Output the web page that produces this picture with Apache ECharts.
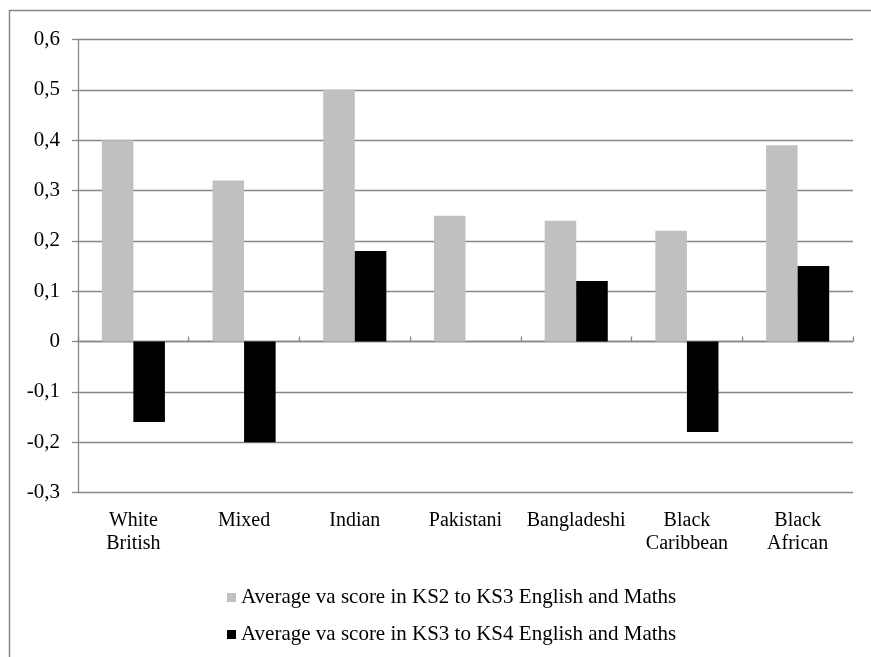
<!DOCTYPE html>
<html>
<head>
<meta charset="utf-8">
<script src="https://cdn.jsdelivr.net/npm/echarts@6/dist/echarts.min.js"></script>
<style>
  html, body { margin: 0; padding: 0; background: #ffffff; }
  #chart { width: 871px; height: 657px; }
</style>
</head>
<body>
<div id="chart"></div>
<script>
// Ethnic groups along the category axis
const categories = ['White\nBritish', 'Mixed', 'Indian', 'Pakistani', 'Bangladeshi', 'Black\nCaribbean', 'Black\nAfrican'];
// Average value-added scores
const ks2ToKs3 = [0.40, 0.32, 0.50, 0.25, 0.24, 0.22, 0.39];
const ks3ToKs4 = [-0.16, -0.20, 0.18, 0, 0.12, -0.18, 0.15];
const seriesNames = [
  'Average va score in KS2 to KS3 English and Maths',
  'Average va score in KS3 to KS4 English and Maths'
];

const serif = '"Liberation Serif", "DejaVu Serif", serif';
const axisGrey = '#878787';

const chart = echarts.init(document.getElementById('chart'), null, { renderer: 'canvas' });
chart.setOption({
  animation: false,
  backgroundColor: '#ffffff',
  textStyle: { fontFamily: serif },
  graphic: [{
    type: 'rect',
    shape: { x: 9.5, y: 10.5, width: 900, height: 700 },
    style: { fill: 'none', stroke: axisGrey, lineWidth: 1.5 },
    silent: true
  }],
  grid: { left: 78, right: 18, top: 39.5, bottom: 164.5, containLabel: false },
  legend: {
    orient: 'vertical',
    left: 222,
    top: 581,
    itemWidth: 9,
    itemHeight: 9,
    itemGap: 14,
    icon: 'rect',
    textStyle: { fontFamily: serif, fontSize: 21, color: '#000', lineHeight: 23 },
    data: seriesNames
  },
  xAxis: [{
    type: 'category',
    data: categories,
    position: 'bottom',
    axisLine: { show: false, onZero: false },
    axisTick: { show: false },
    axisLabel: {
      color: '#000', fontFamily: serif, fontSize: 20, lineHeight: 23,
      margin: 17, interval: 0
    },
    splitLine: { show: false }
  }, {
    type: 'category',
    data: categories,
    axisLine: { show: true, onZero: true, lineStyle: { color: axisGrey, width: 1.3 } },
    axisTick: { show: true, length: 5, lineStyle: { color: axisGrey, width: 1.3 } },
    axisLabel: { show: false },
    splitLine: { show: false }
  }],
  yAxis: {
    type: 'value',
    min: -0.3,
    max: 0.6,
    interval: 0.1,
    axisLine: { show: true, lineStyle: { color: axisGrey, width: 1.3 } },
    axisTick: { show: true, inside: false, length: 6, lineStyle: { color: axisGrey, width: 1.3 } },
    axisLabel: {
      color: '#000', fontFamily: serif, fontSize: 21, margin: 18,
      formatter: v => {
        const r = Math.round(v * 10) / 10;
        return r === 0 ? '0' : r.toFixed(1).replace('.', ',');
      }
    },
    splitLine: { show: true, lineStyle: { color: axisGrey, width: 1.3 } }
  },
  series: [{
    name: seriesNames[0],
    type: 'bar',
    data: ks2ToKs3,
    itemStyle: { color: '#c0c0c0' },
    barGap: '0%',
    barCategoryGap: '43%',
    z: 3
  }, {
    name: seriesNames[1],
    type: 'bar',
    data: ks3ToKs4,
    itemStyle: { color: '#000000' },
    barGap: '0%',
    barCategoryGap: '43%',
    z: 3
  }]
});
</script>
</body>
</html>
